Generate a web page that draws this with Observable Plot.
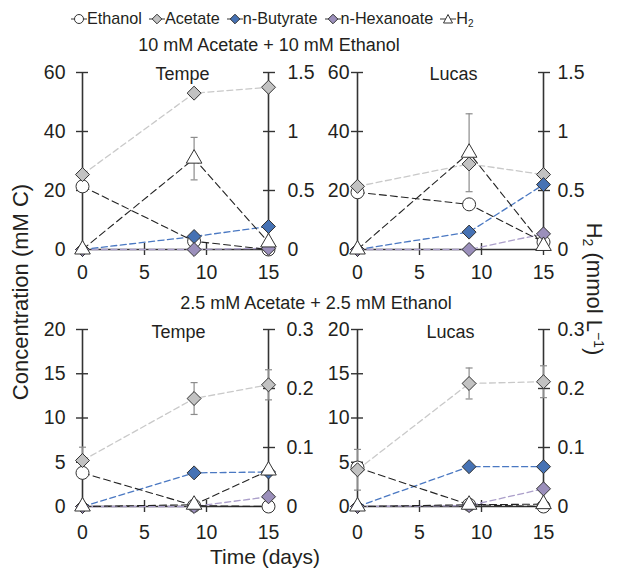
<!DOCTYPE html>
<html><head><meta charset="utf-8">
<script src="https://cdn.jsdelivr.net/npm/d3@7"></script>
<script src="https://cdn.jsdelivr.net/npm/@observablehq/plot@0.6"></script>
<style>
body{margin:0;background:#fff;font-family:"Liberation Sans",Arial,sans-serif;color:#231f20}
#wrap{position:relative;width:617px;height:568px;overflow:hidden;background:#fff}
.abs{position:absolute;white-space:nowrap;line-height:1}
.panel{position:absolute}
#legend{position:absolute;left:71px;top:9px;display:flex;align-items:center;font-size:16.2px;gap:7px}
#legend .it{display:flex;align-items:center}
#legend sub{font-size:10px;vertical-align:-3px;line-height:0}
</style></head><body><div id="wrap"></div>
<script>
// ---------- data ----------
const days = [0, 9, 15];
const xTicks = [0, 5, 10, 15];
const seriesNames = ["Ethanol", "Acetate", "n-Butyrate", "n-Hexanoate", "H2"];
const groupTitles = ["10 mM Acetate + 10 mM Ethanol", "2.5 mM Acetate + 2.5 mM Ethanol"];
const siteNames = ["Tempe", "Lucas"];

// 10 mM panels: left axis mM C (0-60), right axis H2 mmol/L (0-1.5)
const topLeftTicks = [0, 20, 40, 60];
const topRightTicks = [0, 0.5, 1, 1.5];
const tempe10Ethanol   = [21.4, 2.8, 0];
const tempe10Acetate   = [25.4, 53, 55];
const tempe10AcetErr   = [0, 0, 0];
const tempe10Butyrate  = [0, 4.4, 7.8];
const tempe10Hexanoate = [0, 0, 0.4];
const tempe10H2        = [0, 0.77, 0.06];
const tempe10H2Err     = [0, 0.18, 0];

const lucas10Ethanol   = [19.4, 15.3, 2.5];
const lucas10Acetate   = [21.4, 29, 25.4];
const lucas10AcetErr   = [0, 0, 0];
const lucas10Butyrate  = [0, 5.9, 22];
const lucas10Hexanoate = [0, 0, 5.3];
const lucas10H2        = [0, 0.82, 0.03];
const lucas10H2Err     = [0, 0.33, 0];

// 2.5 mM panels: left axis 0-20, right axis 0-0.3
const botLeftTicks = [0, 5, 10, 15, 20];
const botRightTicks = [0, 0.1, 0.2, 0.3];
const tempe25Ethanol   = [3.8, 0.1, 0];
const tempe25Acetate   = [5.2, 12.2, 13.75];
const tempe25AcetErr   = [1.5, 1.8, 1.7];
const tempe25Butyrate  = [0, 3.8, 3.9];
const tempe25Hexanoate = [0, 0, 1.1];
const tempe25H2        = [0, 0.003, 0.061];
const tempe25H2Err     = [0, 0, 0];

const lucas25Ethanol   = [4.4, 0.2, 0];
const lucas25Acetate   = [4.15, 13.9, 14.1];
const lucas25AcetErr   = [2.3, 1.75, 1.8];
const lucas25Butyrate  = [0, 4.5, 4.5];
const lucas25Hexanoate = [0, 0.1, 2.0];
const lucas25H2        = [0, 0.003, 0.004];
const lucas25H2Err     = [0, 0, 0];

// ---------- styles ----------
const COL = {
  ethLine: "#222", h2Line: "#222",
  aceLine: "#c9c9c9", aceFill: "#c2c2c2",
  butLine: "#4a78c2", butFill: "#4672b4",
  hexLine: "#ab9fca", hexFill: "#9b8fbb",
  mk: "#333", axis: "#333", err: "#8c8c8c"
};
const FONT = '"Liberation Sans", Arial, sans-serif';
const capSymbol = {draw(ctx) { ctx.moveTo(-3.5, 0); ctx.lineTo(3.5, 0); }};

function panel(cfg) {
  const yMax = d3.max(cfg.leftTicks), h2Max = d3.max(cfg.rightTicks);
  const k = yMax / h2Max;
  const rows = (vals, s, f = 1) => days.map((d, i) => ({day: d, value: vals[i] * f, series: s}));
  const eth = rows(cfg.ethanol, seriesNames[0]);
  const ace = rows(cfg.acetate, seriesNames[1]);
  const but = rows(cfg.butyrate, seriesNames[2]);
  const hex = rows(cfg.hexanoate, seriesNames[3]);
  const h2 = rows(cfg.h2, seriesNames[4], k);
  const err = [];
  days.forEach((d, i) => {
    if (cfg.acetErr[i] > 0) err.push({day: d, lo: cfg.acetate[i] - cfg.acetErr[i], hi: cfg.acetate[i] + cfg.acetErr[i]});
    if (cfg.h2Err[i] > 0) err.push({day: d, lo: (cfg.h2[i] - cfg.h2Err[i]) * k, hi: (cfg.h2[i] + cfg.h2Err[i]) * k});
  });
  const caps = err.flatMap(e => [{day: e.day, v: e.lo}, {day: e.day, v: e.hi}]);
  const dash = "6,3.5", bdash = "7,4";
  const p = Plot.plot({
    width: 266, height: 217,
    marginLeft: 40, marginRight: 40, marginTop: 10, marginBottom: 30,
    x: {domain: d3.extent(days)},
    y: {domain: [0, yMax]},
    style: {fontSize: "19.5px", fontFamily: FONT, color: "#231f20", background: "transparent", overflow: "visible"},
    marks: [
      Plot.ruleX(d3.extent(days), {stroke: COL.axis, strokeWidth: 1.6}),
      Plot.ruleY([cfg.leftTicks[0]], {stroke: COL.axis, strokeWidth: 1.6}),
      Plot.axisY({anchor: "left", ticks: cfg.leftTicks, tickSize: 12, dx: 6, tickPadding: cfg.lGap - 6, label: null, stroke: COL.axis, strokeWidth: 1.4}),
      Plot.axisY({anchor: "right", ticks: cfg.rightTicks.map(v => v * k), tickFormat: d => String(+(d / k).toFixed(2)), tickSize: 12, dx: -6, tickPadding: cfg.rGap - 6, label: null, stroke: COL.axis, strokeWidth: 1.4}),
      Plot.axisX({anchor: "bottom", ticks: xTicks, tickSize: 12, dy: -6, tickPadding: cfg.xPad, label: null, stroke: COL.axis, strokeWidth: 1.4}),
      Plot.line(ace, {x: "day", y: "value", stroke: COL.aceLine, strokeWidth: 1.3, strokeDasharray: dash}),
      Plot.line(hex, {x: "day", y: "value", stroke: COL.hexLine, strokeWidth: 1.3, strokeDasharray: dash}),
      Plot.line(but, {x: "day", y: "value", stroke: COL.butLine, strokeWidth: 1.3, strokeDasharray: dash}),
      Plot.line(eth, {x: "day", y: "value", stroke: COL.ethLine, strokeWidth: 1.1, strokeDasharray: bdash}),
      Plot.line(h2, {x: "day", y: "value", stroke: COL.h2Line, strokeWidth: 1.1, strokeDasharray: bdash}),
      Plot.ruleX(err, {x: "day", y1: "lo", y2: "hi", stroke: COL.err, strokeWidth: 1.2}),
      Plot.dot(caps, {x: "day", y: "v", symbol: capSymbol, r: 3, fill: "none", stroke: COL.err, strokeWidth: 1.2}),
      Plot.dot(eth, {x: "day", y: "value", symbol: "circle", r: 6.5, fill: "white", stroke: COL.mk, strokeWidth: 1}),
      Plot.dot(ace, {x: "day", y: "value", symbol: "diamond2", r: 6.3, fill: COL.aceFill, stroke: COL.mk, strokeWidth: 1}),
      Plot.dot(but, {x: "day", y: "value", symbol: "diamond2", r: 6.3, fill: COL.butFill, stroke: COL.mk, strokeWidth: 1}),
      Plot.dot(hex, {x: "day", y: "value", symbol: "diamond2", r: 6.3, fill: COL.hexFill, stroke: COL.mk, strokeWidth: 1}),
      Plot.dot(h2, {x: "day", y: "value", symbol: "triangle", r: 5.8, fill: "white", stroke: COL.mk, strokeWidth: 1}),
      Plot.text([cfg.name], {frameAnchor: "top", lineAnchor: "middle", dx: cfg.nameDx, dy: cfg.nameDy, fontSize: 18, fill: "#231f20"})
    ]
  });
  p.classList.add("panel");
  p.style.left = cfg.left + "px";
  p.style.top = cfg.top + "px";
  return p;
}

const wrap = document.getElementById("wrap");
const panels = [
  {name: siteNames[0], left: 42, top: 62, leftTicks: topLeftTicks, rightTicks: topRightTicks, ethanol: tempe10Ethanol, acetate: tempe10Acetate, acetErr: tempe10AcetErr, butyrate: tempe10Butyrate, hexanoate: tempe10Hexanoate, h2: tempe10H2, h2Err: tempe10H2Err, lGap: 17, rGap: 19, xPad: 10, nameDx: 7, nameDy: 2},
  {name: siteNames[1], left: 317, top: 62, leftTicks: topLeftTicks, rightTicks: topRightTicks, ethanol: lucas10Ethanol, acetate: lucas10Acetate, acetErr: lucas10AcetErr, butyrate: lucas10Butyrate, hexanoate: lucas10Hexanoate, h2: lucas10H2, h2Err: lucas10H2Err, lGap: 8, rGap: 14, xPad: 10, nameDx: 3, nameDy: 2},
  {name: siteNames[0], left: 42, top: 319, leftTicks: botLeftTicks, rightTicks: botRightTicks, ethanol: tempe25Ethanol, acetate: tempe25Acetate, acetErr: tempe25AcetErr, butyrate: tempe25Butyrate, hexanoate: tempe25Hexanoate, h2: tempe25H2, h2Err: tempe25H2Err, lGap: 17, rGap: 18, xPad: 13, nameDx: 3, nameDy: 3},
  {name: siteNames[1], left: 317, top: 319, leftTicks: botLeftTicks, rightTicks: botRightTicks, ethanol: lucas25Ethanol, acetate: lucas25Acetate, acetErr: lucas25AcetErr, butyrate: lucas25Butyrate, hexanoate: lucas25Hexanoate, h2: lucas25H2, h2Err: lucas25H2Err, lGap: 8, rGap: 14, xPad: 13, nameDx: 0, nameDy: 3}
];
panels.forEach(c => wrap.appendChild(panel(c)));

function addText(txt, x, y, size, rot, html) {
  const d = document.createElement("div");
  d.className = "abs";
  d.style.fontSize = size + "px";
  if (html) d.innerHTML = txt; else d.textContent = txt;
  d.style.left = x + "px"; d.style.top = y + "px";
  d.style.transform = `translate(-50%,-50%)` + (rot ? ` rotate(${rot}deg)` : "");
  wrap.appendChild(d);
  return d;
}
addText(groupTitles[0], 269, 45, 18);
addText(groupTitles[1], 316, 303, 18);
addText("Time (days)", 265, 556, 21);
addText("Concentration (mM C)", 21, 292, 22, -90);
addText('H<sub style="font-size:14px;vertical-align:-4px;line-height:0">2</sub> (mmol L<sup style="font-size:14px;vertical-align:7px;line-height:0">−1</sup>)', 594, 289, 22, 90, true);

// legend
const legend = document.createElement("div");
legend.id = "legend";
const legendStyle = [
  {sym: "circle", fill: "white"},
  {sym: "diamond", fill: COL.aceFill},
  {sym: "diamond", fill: COL.butFill},
  {sym: "diamond", fill: COL.hexFill},
  {sym: "triangle", fill: "white"}
];
seriesNames.forEach((s, i) => {
  const it = document.createElement("span");
  it.className = "it";
  const st = legendStyle[i];
  let shape;
  if (st.sym === "circle") shape = `<circle cx="8" cy="7" r="4.5" fill="${st.fill}" stroke="#333"/>`;
  else if (st.sym === "diamond") shape = `<path d="M8,2.2L12.8,7L8,11.8L3.2,7Z" fill="${st.fill}" stroke="#333"/>`;
  else shape = `<path d="M8,2.5L12.5,11L3.5,11Z" fill="${st.fill}" stroke="#333"/>`;
  const label = s === "H2" ? "H<sub>2</sub>" : s;
  it.innerHTML = `<svg width="16" height="14"><line x1="0" x2="16" y1="7" y2="7" stroke="#333" stroke-width="1"/>${shape}</svg><span>${label}</span>`;
  legend.appendChild(it);
});
wrap.appendChild(legend);
</script></body></html>
